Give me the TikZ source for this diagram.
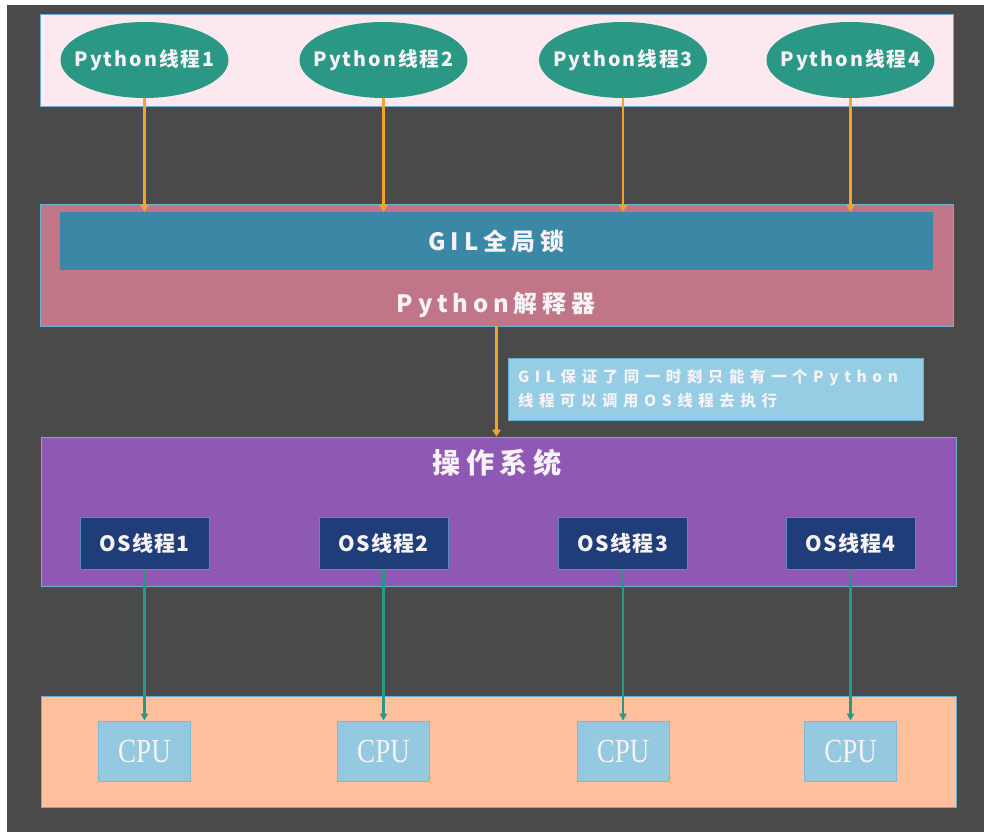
\documentclass[tikz,border=0pt]{standalone}
\usepackage{fontspec}
\setmainfont{Liberation Serif}
\newfontfamily\cjk{Noto Sans CJK SC}
\usepackage{tikz}
\usetikzlibrary{shapes.geometric}
\usetikzlibrary{arrows.meta}
\newcommand{\pix}{0.025cm}
\definecolor{bgdark}{HTML}{4A4A4A}
\definecolor{threadpink}{HTML}{FCE9EF}
\definecolor{edgeblue}{HTML}{6FAFD6}
\definecolor{tealgreen}{HTML}{2A9884}
\definecolor{pyorange}{HTML}{F2A52A}
\definecolor{interpmauve}{HTML}{C07686}
\definecolor{gilblue}{HTML}{3A87A6}
\definecolor{noteblue}{HTML}{94CDE4}
\definecolor{ospurple}{HTML}{8F58B5}
\definecolor{osnavy}{HTML}{1F3D78}
\definecolor{peach}{HTML}{FFC09E}
\definecolor{cpublue}{HTML}{94C9E0}
\definecolor{labelwhite}{HTML}{F6F2F6}

\begin{document}
\begin{tikzpicture}[x=0.025cm,y=-0.025cm,
  band/.style={draw=edgeblue,line width=0.6pt,inner sep=0pt,minimum width=913*\pix},
  pyth/.style={ellipse,fill=tealgreen,text=labelwhite,inner sep=0pt,
    minimum width=168*\pix,minimum height=76*\pix,
    font=\cjk\bfseries\fontsize{14}{16}\selectfont\addfontfeatures{LetterSpace=10}},
  osth/.style={rectangle,fill=osnavy,draw=edgeblue!70!osnavy,line width=0.6pt,text=labelwhite,
    inner sep=0pt,minimum width=129*\pix,minimum height=52*\pix,
    font=\cjk\bfseries\fontsize{15}{17}\selectfont\addfontfeatures{LetterSpace=6}},
  cpubox/.style={rectangle,fill=cpublue,draw=edgeblue!60!cpublue,line width=0.6pt,text=labelwhite,
    inner sep=0pt,minimum width=92*\pix,minimum height=60*\pix,font=\fontsize{24}{26}\selectfont},
  title/.style={text=labelwhite,inner sep=0pt,font=\cjk\bfseries\fontsize{#1}{#1}\selectfont\addfontfeatures{LetterSpace=20}},
  pyarrow/.style={draw=pyorange,line width=1.6pt,-{Triangle[length=5pt,width=6pt]}},
  osarrow/.style={draw=tealgreen,line width=1.7pt,-{Triangle[length=5pt,width=5pt]}}
]
  \fill[white] (0,0) rectangle (984,839);
  \useasboundingbox (0,0) rectangle (984,839);
  \fill[bgdark] (7,5) rectangle (984,832); % dark screen

  % the four layers
  \node[band,fill=threadpink,minimum height=92*\pix] (threads) at (496.5,60) {};
  \node[band,fill=interpmauve,minimum height=122*\pix] (interp) at (496.5,265) {};
  \node[fill=gilblue,inner sep=0pt,minimum width=873*\pix,minimum height=58*\pix,
    title=17] (gil) at (496.5,241) {GIL全局锁};
  \node[title=17] (interptxt) at (496,305) {Python解释器};
  \node[band,fill=ospurple,minimum width=915*\pix,minimum height=149*\pix] (os) at (498.5,511.5) {};
  \node[title=20] (ostxt) at (497,463) {操作系统};
  \node[band,fill=peach,minimum width=915*\pix,minimum height=111*\pix] (hw) at (498.5,751.5) {};

  % note beside the middle arrow
  \node[fill=noteblue,draw=edgeblue,line width=0.6pt,text=labelwhite,
    minimum width=415*\pix,minimum height=62*\pix,inner xsep=10*\pix,inner ysep=0pt,
    text width=395*\pix,align=left,
    font=\cjk\bfseries\fontsize{11}{17}\selectfont\addfontfeatures{LetterSpace=36}]
    (note) at (715.5,389) {GIL保证了同一时刻只能有一个Python\\线程可以调用OS线程去执行};

  \foreach \i/\x in {1/144.5,2/383.5,3/623,4/850.5} {
    \node[pyth] (pt\i) at (\x,60) {\makebox[0pt]{Python线程\i}}; % python threads
    \node[osth] (os\i) at (\x,543) {OS线程\i}; % os threads
    \node[cpubox] (cpu\i) at (\x,751) {\scalebox{0.8}[1]{CPU}}; % cores
  }
  \foreach \i in {1,...,4} {
    \draw[pyarrow] (pt\i) -- (pt\i |- gil.north);
    \draw[osarrow] (os\i) -- (cpu\i);
  }
  \draw[pyarrow] (interp.south) -- (os.north -| interp.south);
\end{tikzpicture}
\end{document}
